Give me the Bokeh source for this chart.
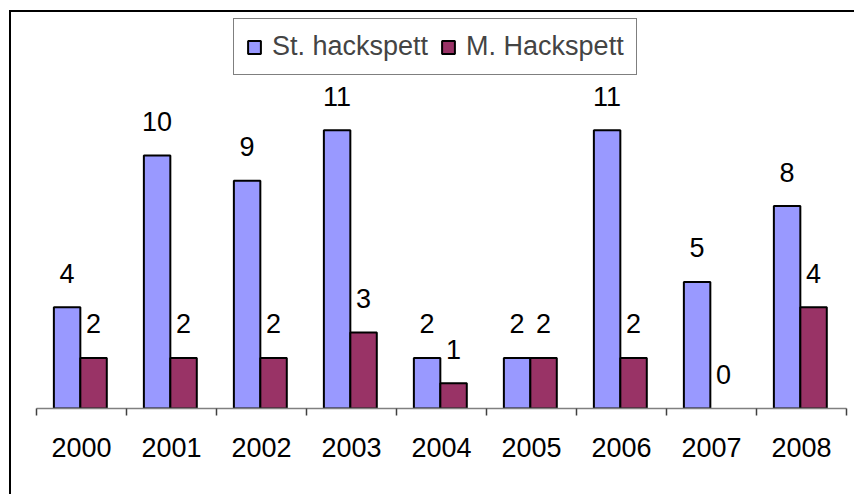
from bokeh.plotting import figure
from bokeh.models import FixedTicker, Range1d, ColumnDataSource, Legend, LegendItem
from bokeh.embed import file_html
from bokeh.resources import INLINE
from bokeh.core.properties import value

years = ["2000", "2001", "2002", "2003", "2004", "2005", "2006", "2007", "2008"]
st_hackspett = [4, 10, 9, 11, 2, 2, 11, 5, 8]
m_hackspett = [2, 2, 2, 3, 1, 2, 2, 0, 4]
series_names = ["St. hackspett", "M. Hackspett"]
series_colors = ["#9999FF", "#993366"]

FONT = "Liberation Sans"
FS = "27px"
idx = list(range(len(years)))
group_center = 0.487
bar_w = 0.294

p = figure(width=845, height=484, output_backend="svg", toolbar_location=None,
           x_range=Range1d(0, len(years)), y_range=Range1d(0, 15.57),
           min_border_left=25, min_border_right=10, min_border_top=2, min_border_bottom=88)
p.styles = {"border-top": "2px solid black", "border-left": "2px solid black",
            "margin-left": "9px", "margin-top": "10px"}
p.outline_line_color = None
p.grid.visible = False
p.yaxis.visible = False

renderers = []
for k, (vals, color) in enumerate(zip([st_hackspett, m_hackspett], series_colors)):
    sign = -1 if k == 0 else 1
    src = ColumnDataSource(dict(
        x=[i + group_center + sign * bar_w / 2 for i in idx],
        top=vals,
        lbl=[str(v) for v in vals],
        la=[0.0 if v == 0 else 1.0 for v in vals],
    ))
    r = p.vbar(x="x", top="top", bottom=0, width=bar_w, source=src,
               fill_color=color, line_color="black", line_width=2, line_alpha="la")
    renderers.append(r)
    p.text(x="x", y="top", text="lbl", source=src, y_offset=-34,
           text_align="center", text_baseline="middle",
           text_font=value(FONT), text_font_size=FS, text_color="black")

xa = p.xaxis[0]
xa.ticker = FixedTicker(ticks=[i + 0.5 for i in idx], minor_ticks=list(range(len(years) + 1)))
xa.major_label_overrides = {i + 0.5: y for i, y in zip(idx, years)}
xa.major_tick_out = 0
xa.major_tick_in = 0
xa.minor_tick_out = 7
xa.minor_tick_in = 0
xa.minor_tick_line_color = "#404040"
xa.minor_tick_line_width = 1.5
xa.axis_line_color = "#808080"
xa.axis_line_width = 1.5
xa.major_label_standoff = 22
xa.major_label_text_font = FONT
xa.major_label_text_font_size = FS
xa.major_label_text_color = "black"

legend = Legend(items=[LegendItem(label=n, renderers=[r]) for n, r in zip(series_names, renderers)],
                orientation="horizontal", location=(197, 333),
                label_text_font=FONT, label_text_font_size=FS,
                glyph_width=16, glyph_height=16, label_standoff=10, spacing=12,
                padding=12, label_height=30, margin=0,
                border_line_color="black", border_line_width=1,
                background_fill_alpha=1.0)
p.add_layout(legend)

open("out.html", "w").write(file_html(p, INLINE))
